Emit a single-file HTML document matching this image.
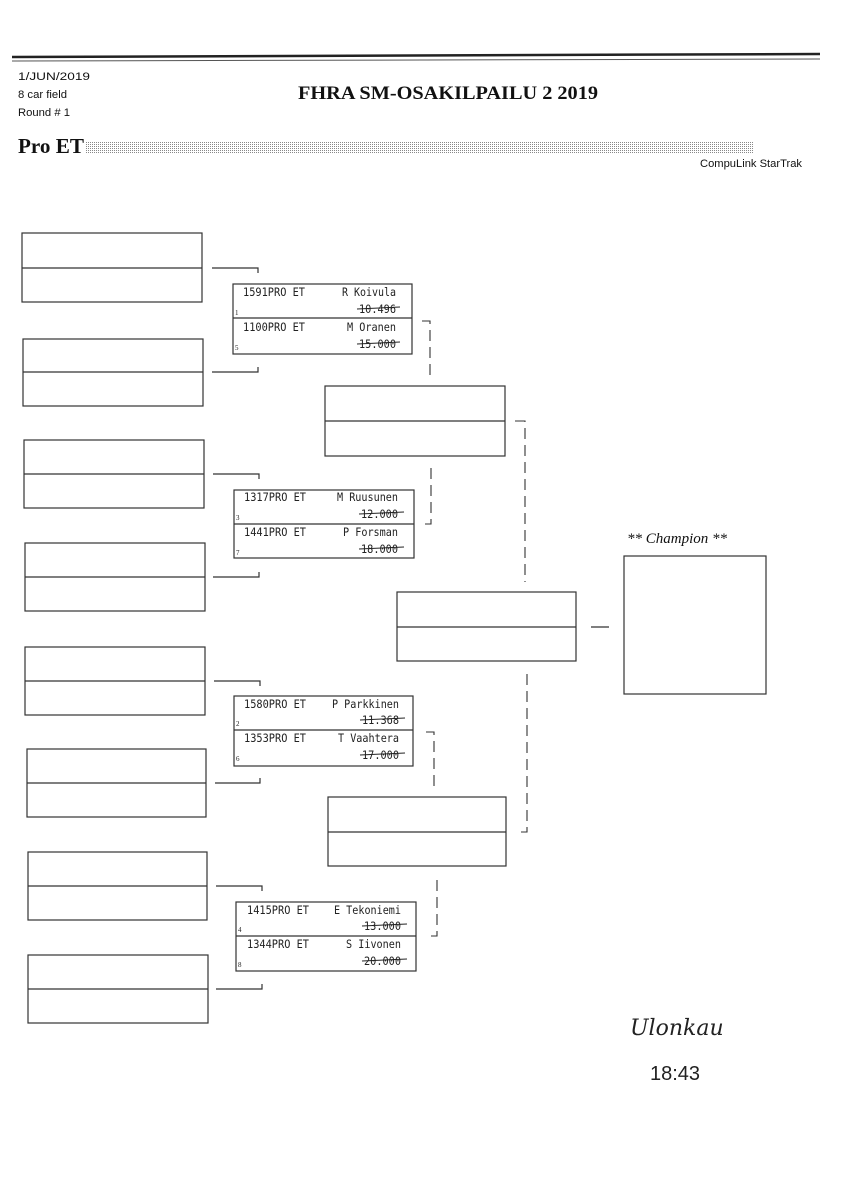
<!DOCTYPE html>
<html><head><meta charset="utf-8"><style>
html,body{margin:0;padding:0;background:#fff}
svg{display:block}
.m{font-family:"DejaVu Sans Mono","Liberation Mono",monospace;font-size:11.5px;fill:#222}
.s{font-family:"Liberation Serif",serif;font-size:7px;fill:#222}
.h{font-family:"Liberation Sans",sans-serif;font-size:11px;fill:#111}
</style></head><body>
<svg width="848" height="1200" viewBox="0 0 848 1200" xmlns="http://www.w3.org/2000/svg">
<defs><pattern id="dot" width="2" height="2" patternUnits="userSpaceOnUse"><rect width="1" height="1" fill="#888"/></pattern></defs>
<rect width="848" height="1200" fill="#fff"/>
<line x1="12" y1="57" x2="820" y2="54" stroke="#222" stroke-width="2.5"/>
<line x1="12" y1="61" x2="820" y2="59" stroke="#555" stroke-width="1"/>
<text x="18" y="80" class="h" textLength="72" lengthAdjust="spacingAndGlyphs">1/JUN/2019</text>
<text x="18" y="98" class="h" textLength="49" lengthAdjust="spacingAndGlyphs">8 car field</text>
<text x="18" y="116" class="h" textLength="52" lengthAdjust="spacingAndGlyphs">Round # 1</text>
<text x="298" y="99" style="font-family:'Liberation Serif',serif;font-weight:bold;font-size:19px;fill:#111" textLength="300" lengthAdjust="spacingAndGlyphs">FHRA SM-OSAKILPAILU 2 2019</text>
<text x="18" y="153" style="font-family:'Liberation Serif',serif;font-weight:bold;font-size:21px;fill:#111" textLength="66" lengthAdjust="spacingAndGlyphs">Pro ET</text>
<rect x="85" y="142" width="668" height="11" fill="url(#dot)"/>
<text x="700" y="167" class="h" textLength="102" lengthAdjust="spacingAndGlyphs">CompuLink StarTrak</text>
<g fill="none" stroke="#333" stroke-width="1.2">
<rect x="22" y="233" width="180" height="69"/><line x1="22" y1="268" x2="202" y2="268"/>
<rect x="23" y="339" width="180" height="67"/><line x1="23" y1="372" x2="203" y2="372"/>
<rect x="24" y="440" width="180" height="68"/><line x1="24" y1="474" x2="204" y2="474"/>
<rect x="25" y="543" width="180" height="68"/><line x1="25" y1="577" x2="205" y2="577"/>
<rect x="25" y="647" width="180" height="68"/><line x1="25" y1="681" x2="205" y2="681"/>
<rect x="27" y="749" width="179" height="68"/><line x1="27" y1="783" x2="206" y2="783"/>
<rect x="28" y="852" width="179" height="68"/><line x1="28" y1="886" x2="207" y2="886"/>
<rect x="28" y="955" width="180" height="68"/><line x1="28" y1="989" x2="208" y2="989"/>
<path d="M212 268H258V273M212 372H258V367M213 474H259V479M213 577H259V572M214 681H260V686M215 783H260V778M216 886H262V891M216 989H262V984"/>
<rect x="233" y="284" width="179" height="70"/><line x1="233" y1="318" x2="412" y2="318"/>
<rect x="234" y="490" width="180" height="68"/><line x1="234" y1="524" x2="414" y2="524"/>
<rect x="234" y="696" width="179" height="70"/><line x1="234" y1="730" x2="413" y2="730"/>
<rect x="236" y="902" width="180" height="69"/><line x1="236" y1="936" x2="416" y2="936"/>
<rect x="325" y="386" width="180" height="70"/><line x1="325" y1="421" x2="505" y2="421"/>
<rect x="328" y="797" width="178" height="69"/><line x1="328" y1="832" x2="506" y2="832"/>
<rect x="397" y="592" width="179" height="69"/><line x1="397" y1="627" x2="576" y2="627"/>
<rect x="624" y="556" width="142" height="138"/>
<line x1="591" y1="627" x2="609" y2="627"/>
</g>
<g fill="none" stroke="#333" stroke-width="1.1" stroke-dasharray="11,6">
<path d="M422 321H430V377"/>
<path d="M431 468V524H423"/>
<path d="M515 421H525V582"/>
<path d="M527 674V832H518"/>
<path d="M426 732H434V790"/>
<path d="M437 880V936H428"/>
</g>
<g class="m" lengthAdjust="spacingAndGlyphs">
<text x="243" y="296" textLength="62" lengthAdjust="spacingAndGlyphs">1591PRO ET</text><text x="396" y="296" text-anchor="end" textLength="54" lengthAdjust="spacingAndGlyphs">R Koivula</text><text x="396" y="313" text-anchor="end" textLength="37" lengthAdjust="spacingAndGlyphs">10.496</text>
<text x="243" y="331" textLength="62" lengthAdjust="spacingAndGlyphs">1100PRO ET</text><text x="396" y="331" text-anchor="end" textLength="49" lengthAdjust="spacingAndGlyphs">M Oranen</text><text x="396" y="348" text-anchor="end" textLength="37" lengthAdjust="spacingAndGlyphs">15.000</text>
<text x="244" y="501" textLength="62" lengthAdjust="spacingAndGlyphs">1317PRO ET</text><text x="398" y="501" text-anchor="end" textLength="61" lengthAdjust="spacingAndGlyphs">M Ruusunen</text><text x="398" y="518" text-anchor="end" textLength="37" lengthAdjust="spacingAndGlyphs">12.000</text>
<text x="244" y="536" textLength="62" lengthAdjust="spacingAndGlyphs">1441PRO ET</text><text x="398" y="536" text-anchor="end" textLength="55" lengthAdjust="spacingAndGlyphs">P Forsman</text><text x="398" y="553" text-anchor="end" textLength="37" lengthAdjust="spacingAndGlyphs">18.000</text>
<text x="244" y="708" textLength="62" lengthAdjust="spacingAndGlyphs">1580PRO ET</text><text x="399" y="708" text-anchor="end" textLength="67" lengthAdjust="spacingAndGlyphs">P Parkkinen</text><text x="399" y="724" text-anchor="end" textLength="37" lengthAdjust="spacingAndGlyphs">11.368</text>
<text x="244" y="742" textLength="62" lengthAdjust="spacingAndGlyphs">1353PRO ET</text><text x="399" y="742" text-anchor="end" textLength="61" lengthAdjust="spacingAndGlyphs">T Vaahtera</text><text x="399" y="759" text-anchor="end" textLength="37" lengthAdjust="spacingAndGlyphs">17.000</text>
<text x="247" y="914" textLength="62" lengthAdjust="spacingAndGlyphs">1415PRO ET</text><text x="401" y="914" text-anchor="end" textLength="67" lengthAdjust="spacingAndGlyphs">E Tekoniemi</text><text x="401" y="930" text-anchor="end" textLength="37" lengthAdjust="spacingAndGlyphs">13.000</text>
<text x="247" y="948" textLength="62" lengthAdjust="spacingAndGlyphs">1344PRO ET</text><text x="401" y="948" text-anchor="end" textLength="55" lengthAdjust="spacingAndGlyphs">S Iivonen</text><text x="401" y="965" text-anchor="end" textLength="37" lengthAdjust="spacingAndGlyphs">20.000</text>
</g>
<g stroke="#222" stroke-width="1">
<line x1="357" y1="309" x2="400" y2="307"/><line x1="357" y1="344" x2="400" y2="342"/>
<line x1="359" y1="514" x2="404" y2="512"/><line x1="359" y1="549" x2="404" y2="547"/>
<line x1="360" y1="720" x2="405" y2="718"/><line x1="360" y1="755" x2="405" y2="753"/>
<line x1="362" y1="926" x2="407" y2="924"/><line x1="362" y1="961" x2="407" y2="959"/>
</g>
<g class="s">
<text x="235" y="315">1</text><text x="235" y="350">5</text>
<text x="236" y="520">3</text><text x="236" y="555">7</text>
<text x="236" y="726">2</text><text x="236" y="761">6</text>
<text x="238" y="932">4</text><text x="238" y="967">8</text>
</g>
<text x="627" y="543" style="font-family:'Liberation Serif',serif;font-style:italic;font-size:15px;fill:#111">** Champion **</text>
<text x="630" y="1035" style="font-family:'DejaVu Serif',serif;font-style:italic;font-size:22px;fill:#222">Ulonkau</text>
<text x="650" y="1080" style="font-family:'Liberation Sans',sans-serif;font-size:20px;fill:#222">18:43</text>
</svg>
</body></html>
